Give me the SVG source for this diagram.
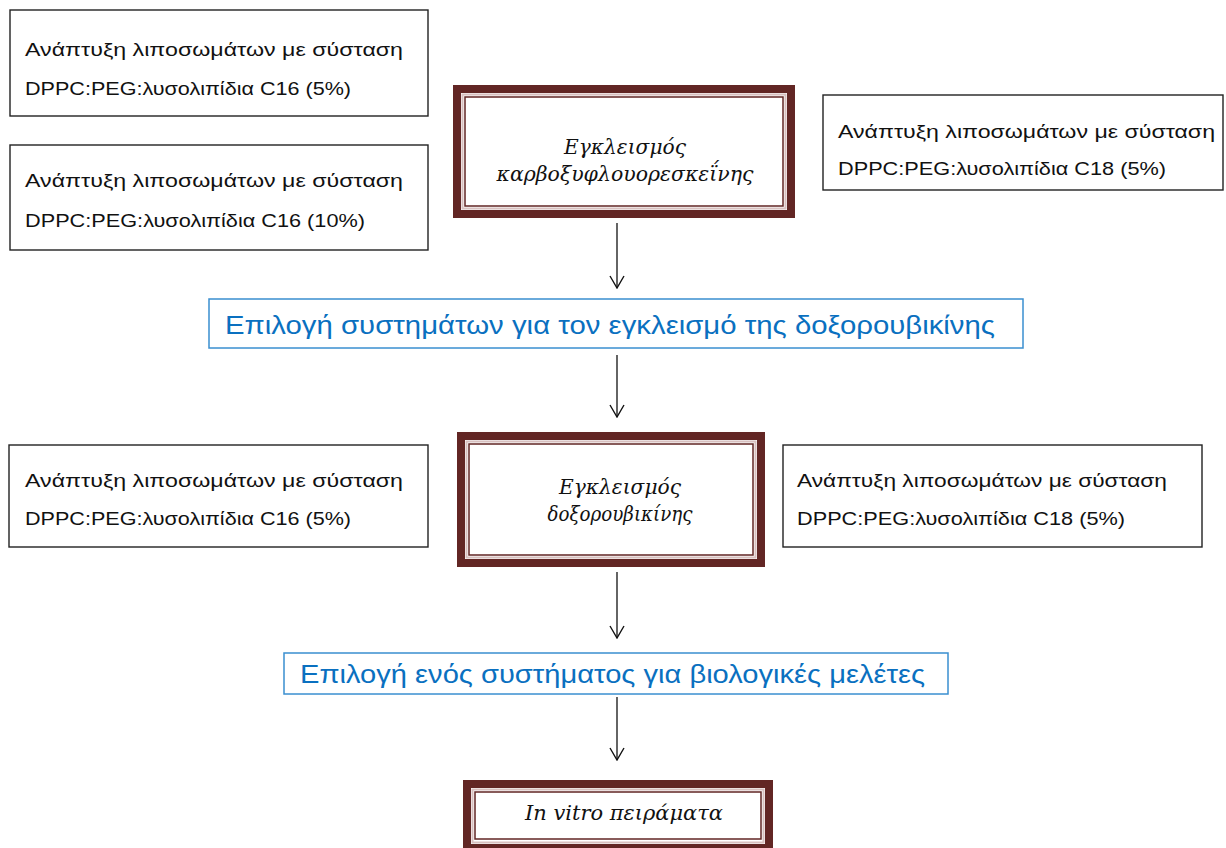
<svg xmlns="http://www.w3.org/2000/svg" width="1226" height="848" viewBox="0 0 1226 848">
<style>
.box{fill:#fff;stroke:#222;stroke-width:1.4}
.lbl{font-family:"Liberation Sans",Arial,sans-serif;font-size:18.5px;fill:#111}
.blue{fill:#fff;stroke:#3a8fd0;stroke-width:1.5}
.btxt{font-family:"Liberation Sans",Arial,sans-serif;font-size:26px;fill:#0a70c0}
.thick{fill:#fff;stroke:#622624;stroke-width:8}
.light{fill:none;stroke:#d8c0bf;stroke-width:2}
.thin{fill:none;stroke:#622624;stroke-width:1.5}
.ital{font-family:"DejaVu Serif","Liberation Serif",serif;font-style:italic;font-size:21px;fill:#111;text-anchor:middle}
.conn{stroke:#111;stroke-width:1.3;fill:none}
</style>
<defs>
<marker id="arr" viewBox="0 0 14 16" refX="13" refY="8" markerWidth="14" markerHeight="16" markerUnits="userSpaceOnUse" orient="auto">
<path d="M1,1 L13,8 L1,15" fill="none" stroke="#111" stroke-width="1.4"/>
</marker>
</defs>
<rect width="1226" height="848" fill="#fff"/>

<g id="n-c16-5a">
<rect class="box" x="10" y="10" width="418" height="106"/>
<text class="lbl" x="25" y="56" textLength="378" lengthAdjust="spacingAndGlyphs">Ανάπτυξη λιποσωμάτων με σύσταση</text>
<text class="lbl" x="25" y="95" textLength="326" lengthAdjust="spacingAndGlyphs">DPPC:PEG:λυσολιπίδια C16 (5%)</text>
</g>
<g id="n-c16-10">
<rect class="box" x="10" y="145" width="418" height="105"/>
<text class="lbl" x="25" y="187" textLength="378" lengthAdjust="spacingAndGlyphs">Ανάπτυξη λιποσωμάτων με σύσταση</text>
<text class="lbl" x="25" y="227" textLength="340" lengthAdjust="spacingAndGlyphs">DPPC:PEG:λυσολιπίδια C16 (10%)</text>
</g>
<g id="n-c18-5a">
<rect class="box" x="823" y="95" width="400" height="95"/>
<text class="lbl" x="838" y="138" textLength="377" lengthAdjust="spacingAndGlyphs">Ανάπτυξη λιποσωμάτων με σύσταση</text>
<text class="lbl" x="838" y="175" textLength="328" lengthAdjust="spacingAndGlyphs">DPPC:PEG:λυσολιπίδια C18 (5%)</text>
</g>
<g id="n-cf">
<rect class="thick" x="457" y="89" width="334" height="125"/>
<rect class="light" x="462.5" y="94.5" width="323" height="114"/>
<rect class="thin" x="465" y="97" width="318" height="109"/>
<text class="ital" x="625" y="154" textLength="122" lengthAdjust="spacingAndGlyphs">Εγκλεισμός</text>
<text class="ital" x="625" y="181" textLength="257" lengthAdjust="spacingAndGlyphs">καρβοξυφλουορεσκεΐνης</text>
</g>
<g id="n-sel1">
<rect class="blue" x="209" y="299" width="814" height="49"/>
<text class="btxt" x="225" y="334" textLength="770" lengthAdjust="spacingAndGlyphs">Επιλογή συστημάτων για τον εγκλεισμό της δοξορουβικίνης</text>
</g>
<g id="n-c16-5b">
<rect class="box" x="9" y="445" width="419" height="102"/>
<text class="lbl" x="25" y="487" textLength="378" lengthAdjust="spacingAndGlyphs">Ανάπτυξη λιποσωμάτων με σύσταση</text>
<text class="lbl" x="25" y="525" textLength="326" lengthAdjust="spacingAndGlyphs">DPPC:PEG:λυσολιπίδια C16 (5%)</text>
</g>
<g id="n-dox">
<rect class="thick" x="461" y="436" width="300" height="127"/>
<rect class="light" x="466.5" y="441.5" width="289" height="116"/>
<rect class="thin" x="469" y="444" width="284" height="111"/>
<text class="ital" x="620" y="494" textLength="122" lengthAdjust="spacingAndGlyphs">Εγκλεισμός</text>
<text class="ital" x="620" y="521" textLength="145" lengthAdjust="spacingAndGlyphs">δοξορουβικίνης</text>
</g>
<g id="n-c18-5b">
<rect class="box" x="783" y="445" width="419" height="102"/>
<text class="lbl" x="797" y="487" textLength="370" lengthAdjust="spacingAndGlyphs">Ανάπτυξη λιποσωμάτων με σύσταση</text>
<text class="lbl" x="797" y="525" textLength="328" lengthAdjust="spacingAndGlyphs">DPPC:PEG:λυσολιπίδια C18 (5%)</text>
</g>
<g id="n-sel2">
<rect class="blue" x="284" y="653" width="664" height="41"/>
<text class="btxt" x="300" y="683" textLength="625" lengthAdjust="spacingAndGlyphs">Επιλογή ενός συστήματος για βιολογικές μελέτες</text>
</g>
<g id="n-invitro">
<rect class="thick" x="467" y="784" width="302" height="64"/>
<rect class="light" x="472.5" y="789.5" width="291" height="53"/>
<rect class="thin" x="475" y="792" width="286" height="47"/>
<text class="ital" x="624" y="820" textLength="198" lengthAdjust="spacingAndGlyphs">In vitro πειράματα</text>
</g>

<g id="connectors">
<line class="conn" x1="617" y1="223" x2="617" y2="288" marker-end="url(#arr)"/>
<line class="conn" x1="617" y1="355" x2="617" y2="417" marker-end="url(#arr)"/>
<line class="conn" x1="617" y1="572" x2="617" y2="638" marker-end="url(#arr)"/>
<line class="conn" x1="617" y1="697" x2="617" y2="760" marker-end="url(#arr)"/>
</g>
</svg>
